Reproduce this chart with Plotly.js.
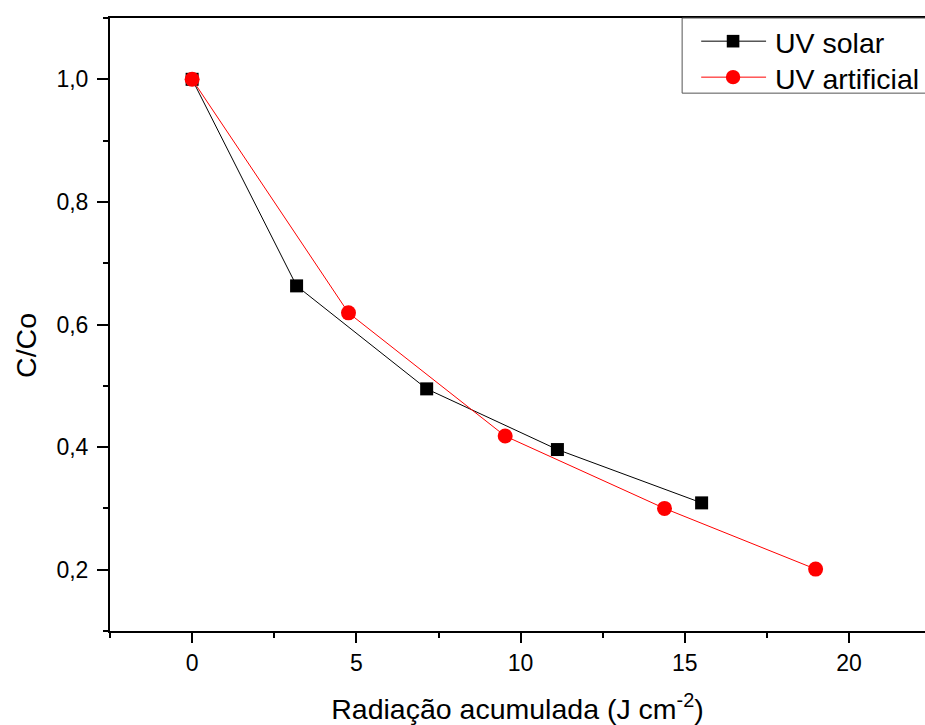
<!DOCTYPE html>
<html>
<head>
<meta charset="utf-8">
<script src="https://cdn.plot.ly/plotly-3.0.1.min.js"></script>
<style>
  html, body { margin: 0; padding: 0; background: #fff; overflow: hidden; }
  #chart { width: 925px; height: 725px; }
</style>
</head>
<body>
<div id="chart"></div>
<script>
// Accumulated radiation (J cm^-2) and relative concentration C/Co
const solarRadiation = [0, 3.18, 7.14, 11.12, 15.51];
const solarRatio = [1.0, 0.663, 0.495, 0.396, 0.309];

const artificialRadiation = [0, 4.76, 9.53, 14.38, 18.98];
const artificialRatio = [1.0, 0.619, 0.418, 0.300, 0.201];

const seriesNames = ['UV solar', 'UV artificial'];
const seriesColors = ['#000000', '#ff0000'];

const FONT = 'Liberation Sans, Arial, sans-serif';

const traces = [
  {
    x: solarRadiation, y: solarRatio, name: seriesNames[0],
    type: 'scatter', mode: 'lines+markers',
    line: { color: seriesColors[0], width: 1 },
    marker: { symbol: 'square', size: 13, color: seriesColors[0], line: { width: 0 } }
  },
  {
    x: artificialRadiation, y: artificialRatio, name: seriesNames[1],
    type: 'scatter', mode: 'lines+markers',
    line: { color: seriesColors[1], width: 1 },
    marker: { symbol: 'circle', size: 15, color: seriesColors[1], line: { width: 0 } }
  }
];

// Legend box drawn in paper coordinates (top-right, running past the edge)
const legendRows = [0.9622, 0.9035];      // key line heights
const legendTextRows = [0.9600, 0.9010];  // label centres
const keyX0 = 0.7254, keyX1 = 0.8050, keyMid = 0.7645, labelX = 0.8130;

const shapes = [
  // slight overhang of the horizontal frame lines to the left of the y axis
  { type: 'line', xref: 'paper', yref: 'paper', x0: -0.008, x1: 0, y0: 0, y1: 0, line: { color: '#000', width: 2 } },
  { type: 'line', xref: 'paper', yref: 'paper', x0: -0.008, x1: 0, y0: 1, y1: 1, line: { color: '#000', width: 2 } },
  // legend frame
  { type: 'rect', xref: 'paper', yref: 'paper', x0: 0.7020, x1: 1.05, y0: 0.8774, y1: 1.0,
    fillcolor: '#ffffff', line: { color: '#555555', width: 1 }, layer: 'above' },
  // legend keys: lines
  { type: 'line', xref: 'paper', yref: 'paper', x0: keyX0, x1: keyX1, y0: legendRows[0], y1: legendRows[0],
    line: { color: seriesColors[0], width: 1 }, layer: 'above' },
  { type: 'line', xref: 'paper', yref: 'paper', x0: keyX0, x1: keyX1, y0: legendRows[1], y1: legendRows[1],
    line: { color: seriesColors[1], width: 1 }, layer: 'above' },
  // legend keys: markers
  { type: 'rect', xref: 'paper', yref: 'paper', xsizemode: 'pixel', ysizemode: 'pixel',
    xanchor: keyMid, yanchor: legendRows[0], x0: -6.3, x1: 6.3, y0: -6.3, y1: 6.3,
    fillcolor: seriesColors[0], line: { width: 0 }, layer: 'above' },
  { type: 'circle', xref: 'paper', yref: 'paper', xsizemode: 'pixel', ysizemode: 'pixel',
    xanchor: keyMid, yanchor: legendRows[1], x0: -7.2, x1: 7.2, y0: -7.2, y1: 7.2,
    fillcolor: seriesColors[1], line: { width: 0 }, layer: 'above' }
];

const annotations = [
  {
    text: 'C/Co', textangle: -90, showarrow: false,
    xref: 'paper', yref: 'paper', x: -0.1024, y: 0.466,
    xanchor: 'center', yanchor: 'middle',
    font: { family: FONT, size: 28.5, color: '#000000' }
  },
  {
    text: seriesNames[0], showarrow: false, xref: 'paper', yref: 'paper',
    x: labelX, y: legendTextRows[0], xanchor: 'left', yanchor: 'middle',
    font: { family: FONT, size: 28.5, color: '#000000' }
  },
  {
    text: seriesNames[1], showarrow: false, xref: 'paper', yref: 'paper',
    x: labelX, y: legendTextRows[1], xanchor: 'left', yanchor: 'middle',
    font: { family: FONT, size: 28.5, color: '#000000' }
  }
];

const layout = {
  width: 925, height: 725,
  margin: { l: 109.5, r: 0, t: 17.5, b: 94 },
  paper_bgcolor: '#ffffff', plot_bgcolor: '#ffffff',
  separators: ',.',
  font: { family: FONT, color: '#000000', size: 23 },
  showlegend: false,
  xaxis: {
    range: [-2.5, 22.31], tick0: 0, dtick: 5,
    showgrid: false, zeroline: false,
    showline: true, linecolor: '#000000', linewidth: 2, mirror: true,
    ticks: 'outside', ticklen: 10, tickwidth: 2, tickcolor: '#000000',
    minor: { dtick: 2.5, ticks: 'outside', ticklen: 5, tickwidth: 2, tickcolor: '#000000', showgrid: false },
    tickfont: { family: FONT, size: 23 },
    title: { text: 'Radiação acumulada (J cm<sup>-2</sup>)', font: { family: FONT, size: 28.5 }, standoff: 24 }
  },
  yaxis: {
    range: [0.1, 1.1], tick0: 0, dtick: 0.2, tickformat: '.1f',
    showgrid: false, zeroline: false,
    showline: true, linecolor: '#000000', linewidth: 2,
    ticks: 'outside', ticklen: 11, tickwidth: 2, tickcolor: '#000000',
    ticklabelstandoff: 4,
    minor: { dtick: 0.1, ticks: 'outside', ticklen: 5, tickwidth: 2, tickcolor: '#000000', showgrid: false },
    tickfont: { family: FONT, size: 23 }
  },
  shapes: shapes,
  annotations: annotations
};

Plotly.newPlot('chart', traces, layout, { displayModeBar: false, staticPlot: true });
</script>
</body>
</html>
